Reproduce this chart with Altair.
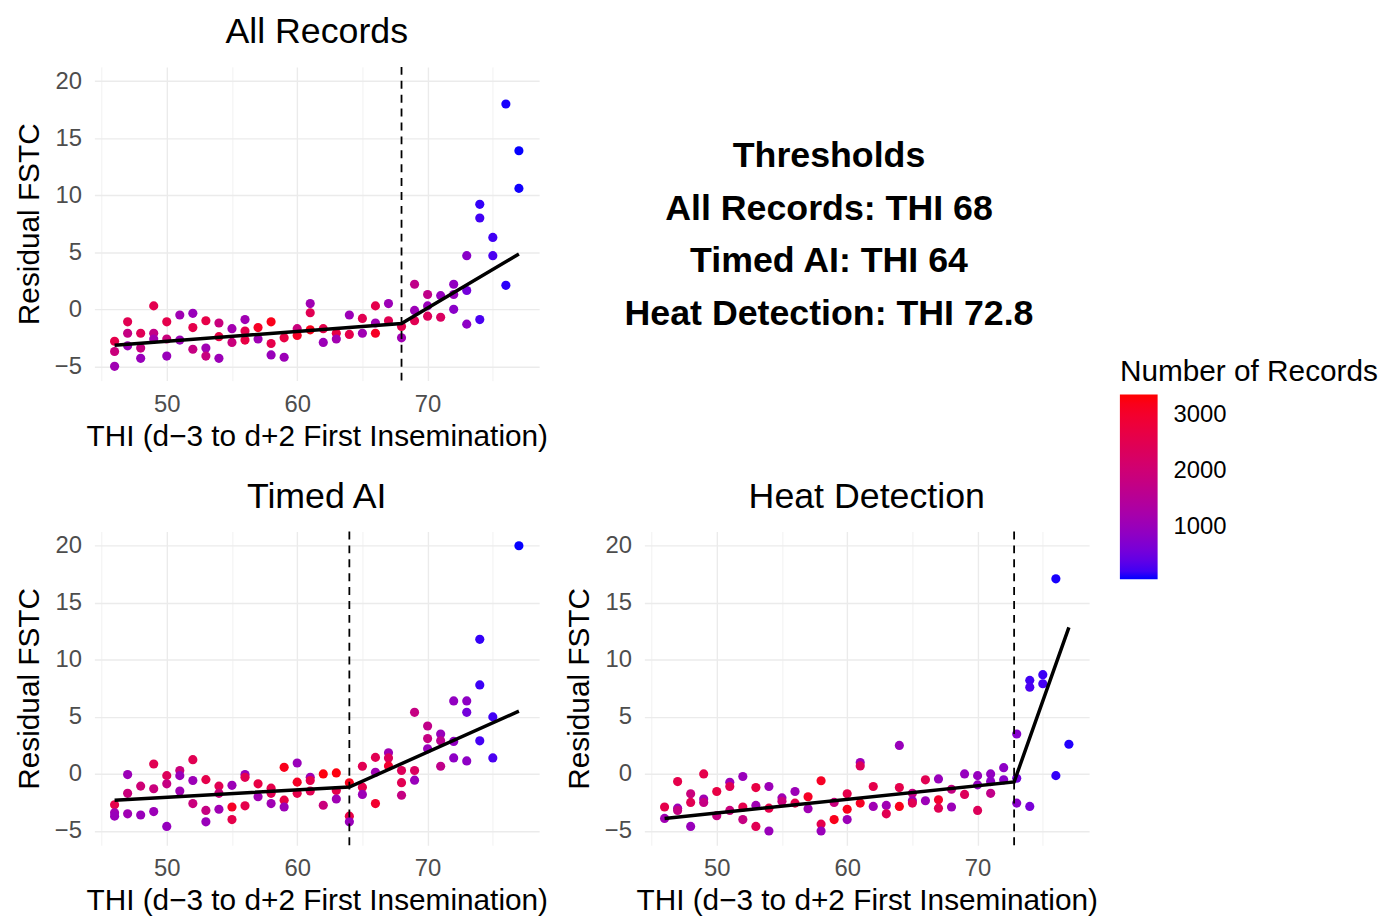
import altair as alt
import pandas as pd

FONT = "Liberation Sans"

# ---------------- All Records ----------------
ar_thi = [46, 46, 46, 47, 47, 47, 48, 48, 48, 49, 49, 49, 50, 50, 50,
          51, 51, 52, 52, 52, 53, 53, 53, 54, 54, 54, 55, 55,
          56, 56, 56, 57, 57, 58, 58, 58, 59, 59, 60, 60,
          61, 61, 61, 62, 62, 63, 63, 64, 64, 65, 65,
          66, 66, 66, 67, 67, 68, 68, 69, 69, 69, 70, 70, 70, 71, 71,
          72, 72, 72, 73, 73, 73, 74, 74, 74, 75, 75, 76, 76, 77, 77]
ar_res = [-2.8, -3.7, -5.0, -1.1, -2.1, -3.2, -2.1, -3.4, -4.3, 0.3, -2.1, -2.6, -1.1, -2.6, -4.1,
          -0.5, -2.7, -0.35, -1.6, -3.5, -1.0, -3.4, -4.1, -1.2, -2.4, -4.3, -1.7, -2.9,
          -0.9, -1.9, -2.7, -1.6, -2.6, -1.1, -3.0, -4.0, -2.5, -4.2, -1.7, -2.3,
          0.5, -0.3, -1.8, -1.7, -2.9, -2.1, -2.6, -0.5, -2.2, -0.8, -2.1,
          0.3, -1.2, -2.1, 0.5, -1.0, -1.5, -2.5, 2.2, -0.1, -1.0, 1.3, 0.3, -0.6, 1.2, -0.7,
          2.2, 1.3, 0.0, 4.7, 1.65, -1.3, 9.2, 8.0, -0.9, 6.3, 4.7, 18.0, 2.1, 13.9, 10.6]
ar_n = [2600, 1900, 1100, 2500, 1800, 1050, 2450, 1850, 1000, 2550, 1750, 1150, 2600, 1900, 1000,
        1100, 1050, 1000, 2600, 1800, 2650, 1100, 1850, 1900, 2700, 1050, 1150, 1900,
        1100, 2600, 2700, 3100, 1100, 3200, 2600, 1000, 2700, 1050, 1900, 3100,
        1100, 2500, 3200, 2600, 1050, 2700, 1150, 1050, 2600, 2500, 1100,
        2600, 1100, 3100, 1050, 2500, 2600, 1100, 1700, 1050, 2500, 1700, 1000, 2400, 950, 2300,
        900, 950, 800, 800, 550, 850, 150, 200, 250, 200, 250, 80, 120, 60, 70]
ar_fit_thi = [46, 68, 77]
ar_fit_res = [-3.15, -1.25, 4.85]
ar_threshold = 68

# ---------------- Timed AI ----------------
ta_thi = [46, 46, 46, 47, 47, 47, 48, 48, 49, 49, 49, 50, 50, 50,
          51, 51, 51, 52, 52, 52, 53, 53, 53, 54, 54, 54, 55, 55, 55,
          56, 56, 56, 57, 57, 58, 58, 58, 59, 59, 59, 60, 60, 60,
          61, 61, 61, 62, 62, 63, 63, 63, 64, 64, 64, 65, 65, 65,
          66, 66, 66, 67, 67, 67, 68, 68, 68, 69, 69, 69, 70, 70, 70,
          71, 71, 71, 72, 72, 72, 73, 73, 73, 74, 74, 74, 75, 75, 77]
ta_res = [-2.7, -3.4, -3.7, -0.06, -1.7, -3.5, -1.07, -3.6, 0.87, -1.3, -3.3, -0.15, -0.87, -4.6,
          0.3, -0.15, -1.5, 1.25, -0.58, -2.6, -0.5, -3.2, -4.2, -1.07, -1.7, -3.1, -1.0, -2.9, -4.0,
          -0.06, -0.3, -2.8, -0.87, -2.0, -1.25, -1.7, -2.6, 0.58, -2.3, -2.9, 0.96, -0.72, -1.7,
          -0.3, -0.58, -1.5, 0.0, -2.75, 0.09, -1.45, -2.2, -0.78, -3.7, -4.2, 0.67, -1.16, -1.8,
          1.45, 0.14, -2.6, 1.85, 1.4, 0.7, 0.3, -0.77, -1.87, 5.4, 0.3, -0.55, 4.2, 3.1, 2.2,
          3.5, 2.9, 0.67, 6.4, 2.85, 1.4, 6.4, 5.4, 1.14, 11.8, 7.8, 2.9, 5.0, 1.4, 20.0]
ta_n = [2600, 1100, 1000, 1050, 1900, 1100, 2000, 1000, 2500, 1900, 1050, 2400, 1800, 950,
        1900, 1000, 1100, 2500, 1050, 1900, 2600, 1800, 1000, 2500, 1900, 1100, 1050, 3100, 2600,
        1000, 2500, 2600, 2700, 1100, 2600, 2500, 1100, 3200, 2700, 1050, 1000, 3100, 2600,
        1100, 2600, 2500, 3300, 1900, 3300, 2600, 1100, 3200, 2700, 1000, 2500, 2600, 1050,
        2500, 1100, 3000, 1100, 2400, 3000, 2400, 2500, 1800, 1800, 2300, 1000, 1700, 1800, 1000,
        1000, 1600, 1700, 900, 900, 850, 850, 550, 850, 150, 180, 220, 200, 250, 60]
ta_fit_thi = [46, 64, 77]
ta_fit_res = [-2.3, -1.15, 5.5]
ta_threshold = 64

# ---------------- Heat Detection ----------------
hd_thi = [46, 46, 47, 47, 47, 48, 48, 48, 49, 49, 49, 50, 50,
          51, 51, 51, 52, 52, 52, 53, 53, 53, 54, 54, 54, 55, 55,
          56, 56, 57, 57, 58, 58, 58, 59, 59, 60, 60, 60,
          61, 61, 61, 62, 62, 63, 63, 64, 64, 64, 65, 65, 65,
          66, 66, 67, 67, 67, 68, 68, 69, 69, 70, 70, 70,
          71, 71, 71, 72, 72, 73, 73, 73, 74, 74, 74, 75, 75, 76, 76, 77]
hd_res = [-2.9, -3.9, -0.67, -3.0, -3.2, -1.74, -2.5, -4.6, 0.0, -2.2, -2.5, -1.54, -3.66,
          -0.73, -1.1, -3.2, -0.23, -2.9, -4.0, -1.2, -2.76, -4.6, -1.1, -3.0, -5.0, -2.1, -2.4,
          -1.54, -2.56, -2.0, -3.05, -0.6, -4.4, -5.0, -2.5, -4.0, -1.74, -3.1, -4.0,
          1.0, 0.7, -2.56, -1.1, -2.85, -2.76, -3.5, 2.5, -1.2, -2.85, -1.7, -2.35, -2.56,
          -0.52, -2.35, -0.44, -2.27, -3.0, -1.34, -2.9, 0.0, -1.8, -0.15, -0.96, -3.2,
          0.0, -0.67, -1.7, 0.55, -0.52, 3.5, -0.38, -2.56, 8.2, 7.6, -2.85, 8.7, 7.9, 17.1, -0.15, 2.6]
hd_n = [2600, 1100, 2600, 1050, 1800, 1900, 2500, 1000, 2600, 1100, 1800, 2700, 1800,
        1050, 2500, 1900, 1000, 2600, 1800, 2700, 1100, 2500, 1050, 2600, 1000, 1100, 1900,
        1050, 2600, 3100, 1100, 3100, 2600, 1000, 1900, 3200, 2600, 3200, 1050,
        1050, 2400, 3100, 2600, 1100, 1100, 2500, 1000, 2600, 3200, 1800, 1100, 2500,
        2500, 1050, 1000, 3000, 2500, 1800, 1050, 950, 2400, 950, 900, 2400,
        900, 850, 1700, 850, 800, 750, 550, 800, 200, 250, 600, 180, 220, 80, 150, 100]
hd_fit_thi = [46, 72.8, 77]
hd_fit_res = [-3.9, -0.7, 12.85]
hd_threshold = 72.8

threshold_lines = ["Thresholds", "All Records: THI 68", "Timed AI: THI 64", "Heat Detection: THI 72.8"]

X_TITLE = "THI (d\u22123 to d+2 First Insemination)"
Y_TITLE = "Residual FSTC"
W, H = 448, 316

x_scale = alt.Scale(domain=[44.45, 78.55], nice=False, zero=False)
y_scale = alt.Scale(domain=[-6.25, 21.25], nice=False, zero=False)
color_scale = alt.Scale(domain=[55, 3376], range=["#0000FF", "#FF0000"], interpolate="lab")

x_axis = alt.Axis(values=[45, 50, 55, 60, 65, 70, 75], format="d",
                  labelExpr="datum.value % 10 === 0 ? datum.label : ''",
                  gridWidth={"condition": {"test": "datum.value % 10 === 0", "value": 1.4}, "value": 0.7})
y_axis = alt.Axis(values=[-5, -2.5, 0, 2.5, 5, 7.5, 10, 12.5, 15, 17.5, 20], format="d",
                  labelExpr="datum.value % 5 === 0 ? datum.label : ''",
                  gridWidth={"condition": {"test": "datum.value % 5 === 0", "value": 1.4}, "value": 0.7})

legend = alt.Legend(title="Number of Records", orient="none", legendX=1033, legendY=292,
                    values=[1000, 2000, 3000], format="d", gradientLength=186, gradientThickness=38,
                    direction="vertical", titleLimit=400, labelLimit=200, labelOffset=16)


def panel(thi, res, n, fit_thi, fit_res, threshold, title):
    pts_df = pd.DataFrame({"thi": thi, "res": res, "n": n})
    fit_df = pd.DataFrame({"thi": fit_thi, "res": fit_res})
    thr_df = pd.DataFrame({"thi": [threshold]})
    pts = alt.Chart(pts_df).mark_circle(size=85, opacity=1).encode(
        x=alt.X("thi:Q", scale=x_scale, axis=x_axis, title=X_TITLE),
        y=alt.Y("res:Q", scale=y_scale, axis=y_axis, title=Y_TITLE),
        color=alt.Color("n:Q", scale=color_scale, legend=legend),
    )
    fit = alt.Chart(fit_df).mark_line(color="black", strokeWidth=3.5).encode(
        x=alt.X("thi:Q", scale=x_scale, title=X_TITLE),
        y=alt.Y("res:Q", scale=y_scale, title=Y_TITLE),
    )
    vline = alt.Chart(thr_df).mark_rule(color="black", strokeWidth=1.8, strokeDash=[8, 6]).encode(
        x=alt.X("thi:Q", scale=x_scale, title=X_TITLE),
    )
    return alt.layer(pts, fit, vline).properties(width=W, height=H, title=title)


p_ar = panel(ar_thi, ar_res, ar_n, ar_fit_thi, ar_fit_res, ar_threshold, "All Records")
p_ta = panel(ta_thi, ta_res, ta_n, ta_fit_thi, ta_fit_res, ta_threshold, "Timed AI")
p_hd = panel(hd_thi, hd_res, hd_n, hd_fit_thi, hd_fit_res, hd_threshold, "Heat Detection")

txt_df = pd.DataFrame({"line": threshold_lines, "row": list(range(len(threshold_lines)))})
txt = alt.Chart(txt_df).mark_text(font=FONT, fontSize=36, fontWeight="bold", color="black",
                                  align="center", baseline="middle").encode(
    text="line:N",
    x=alt.value(186),
    y=alt.Y("row:Q", axis=None, scale=alt.Scale(domain=[0, 3], range=[90, 249])),
).properties(width=W, height=H)

chart = alt.concat(p_ar, txt, p_ta, p_hd, columns=2,
                   spacing={"row": 152, "column": 106}, bounds="flush").properties(
    padding={"left": 6, "top": 3, "right": 0, "bottom": 0}
).configure_view(stroke=None).configure_axis(
    labelFont=FONT, labelFontSize=24, labelColor="#4D4D4D",
    titleFont=FONT, titleFontSize=30, titleFontWeight="normal", titleColor="black",
    domain=False, ticks=False, tickSize=0, labelPadding=12, titlePadding=5,
    gridColor="#EBEBEB",
).configure_axisY(labelPadding=13, titlePadding=10).configure_title(
    font=FONT, fontSize=36, fontWeight="normal", color="black", anchor="middle", offset=15
).configure_legend(
    titleFont=FONT, titleFontSize=30, titleFontWeight="normal", titleColor="black",
    labelFont=FONT, labelFontSize=24, labelColor="black", labelOffset=16,
    titlePadding=8, padding=0, gradientStrokeWidth=0
)

chart.save("out.html", embed_options={"renderer": "svg", "actions": False})
